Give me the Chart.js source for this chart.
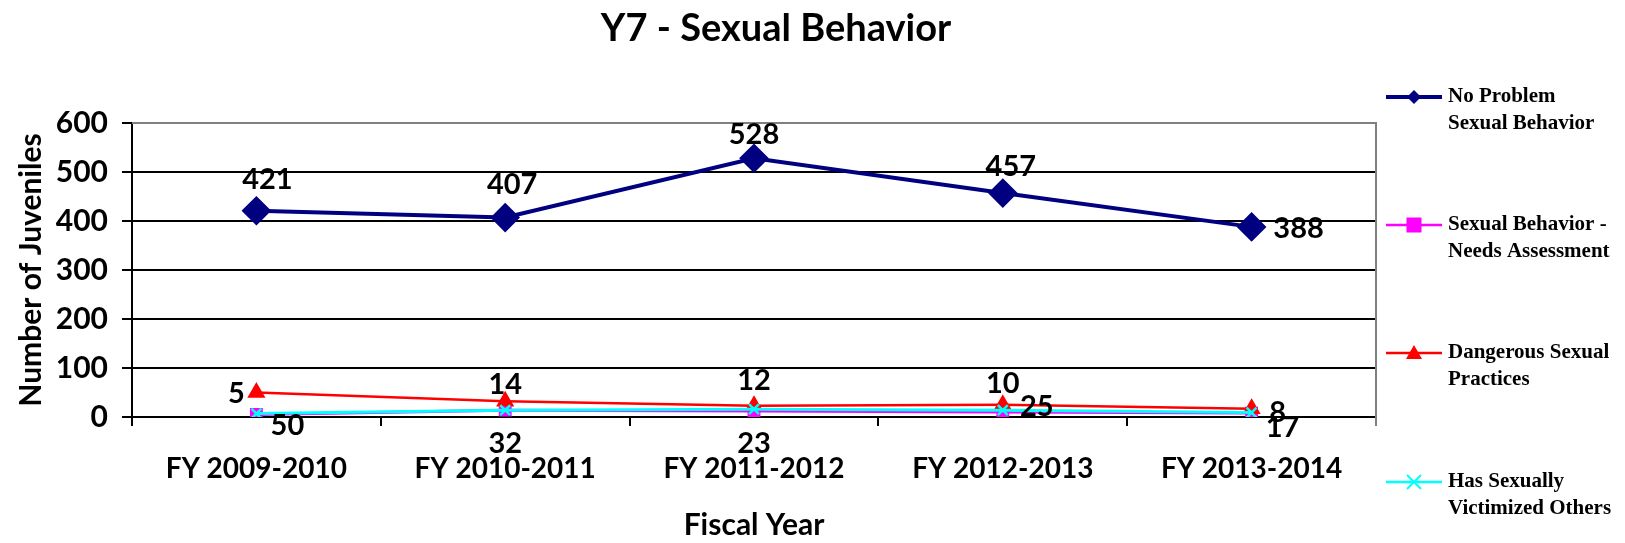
<!DOCTYPE html>
<html>
<head>
<meta charset="utf-8">
<script src="https://cdn.jsdelivr.net/npm/chart.js@4.4.1/dist/chart.umd.min.js"></script>
<style>
  html, body { margin: 0; padding: 0; background: #fff; }
  #wrap { width: 1625px; height: 543px; position: relative; }
</style>
</head>
<body>
<div id="wrap"><canvas id="mycanvas"></canvas></div>
<script>
// values
var years = ['FY 2009-2010', 'FY 2010-2011', 'FY 2011-2012', 'FY 2012-2013', 'FY 2013-2014'];
var noProblem = [421, 407, 528, 457, 388];
var needsAssessment = [5, 14, 12, 10, 8];
var dangerous = [50, 32, 23, 25, 17];
var victimized = [7, 14, 16, 14, 9]; // no labels on chart, estimated
var yTicks = [0, 100, 200, 300, 400, 500, 600];

var sansFont = 'Lato, "Open Sans", sans-serif';
var serifFont = '"Liberation Serif", "Times New Roman", serif';

// label offsets (px from each point), per dataset
var labelOffsets = {
	0: [[11, -31], [7, -33], [0, -24], [8, -26], [47, 2]],
	1: [[-20, -21], [0, -25], [0, -30], [0, -28], [26, 0]],
	2: [[31, 33], [0, 42], [0, 38], [34, 2], [31, 19]]
};

function drawMarker(ctx, style, x, y, r, color) {
	ctx.save();
	ctx.fillStyle = color;
	ctx.strokeStyle = color;
	ctx.beginPath();
	if (style == 'rectRot') {
		ctx.moveTo(x, y - r); ctx.lineTo(x + r, y); ctx.lineTo(x, y + r); ctx.lineTo(x - r, y);
		ctx.closePath(); ctx.fill();
	} else if (style == 'rect') {
		ctx.rect(x - r, y - r, 2 * r, 2 * r); ctx.fill();
	} else if (style == 'triangle') {
		ctx.moveTo(x, y - r); ctx.lineTo(x + r, y + r * 0.75); ctx.lineTo(x - r, y + r * 0.75);
		ctx.closePath(); ctx.fill();
	} else {
		ctx.lineWidth = 2;
		ctx.moveTo(x - r, y - r); ctx.lineTo(x + r, y + r);
		ctx.moveTo(x + r, y - r); ctx.lineTo(x - r, y + r);
		ctx.stroke();
	}
	ctx.restore();
}

var extras = {
	id: 'extras',
	beforeDatasetsDraw: function(chart) {
		var ctx = chart.ctx, a = chart.chartArea;
		ctx.save();
		ctx.strokeStyle = '#808080';
		ctx.lineWidth = 2;
		ctx.beginPath();
		ctx.moveTo(a.left, a.top);
		ctx.lineTo(a.right, a.top);
		ctx.lineTo(a.right, a.bottom + 9);
		ctx.stroke();
		ctx.restore();
	},
	afterDatasetsDraw: function(chart) {
		var ctx = chart.ctx;
		ctx.save();
		ctx.font = 'bold 29px ' + sansFont;
		ctx.fillStyle = '#000';
		ctx.textAlign = 'center';
		ctx.textBaseline = 'middle';
		for (var d in labelOffsets) {
			var meta = chart.getDatasetMeta(d);
			var vals = chart.data.datasets[d].data;
			meta.data.forEach(function(pt, i) {
				var off = labelOffsets[d][i];
				ctx.fillText(String(vals[i]), pt.x + off[0], pt.y + off[1]);
			});
		}
		ctx.restore();
	},
	afterDraw: function(chart) {
		var ctx = chart.ctx;
		ctx.save();
		// title
		ctx.font = 'bold 38px ' + sansFont;
		ctx.fillStyle = '#000';
		ctx.textAlign = 'center';
		ctx.textBaseline = 'middle';
		ctx.fillText('Y7 - Sexual Behavior', 776, 29);
		// legend
		var rows = [97, 225, 353, 482];
		var names = [['No Problem', 'Sexual Behavior'], ['Sexual Behavior -', 'Needs Assessment'],
			['Dangerous Sexual', 'Practices'], ['Has Sexually', 'Victimized Others']];
		var sizes = [7, 7.5, 8, 7];
		ctx.font = 'bold 21px ' + serifFont;
		ctx.textAlign = 'left';
		chart.data.datasets.forEach(function(ds, i) {
			var y = rows[i];
			ctx.strokeStyle = ds.borderColor;
			ctx.lineWidth = i == 0 ? 4 : 2.5;
			ctx.beginPath();
			ctx.moveTo(1386, y); ctx.lineTo(1442, y);
			ctx.stroke();
			drawMarker(ctx, ds.pointStyle, 1414, y, sizes[i], ds.borderColor);
			ctx.fillStyle = '#000';
			ctx.fillText(names[i][0], 1448, y);
			ctx.fillText(names[i][1], 1448, y + 27);
		});
		ctx.restore();
	}
};

var chartdata = {
	labels: years,
	datasets: [
	{
		label: 'No Problem Sexual Behavior',
		data: noProblem,
		borderColor: '#000080',
		backgroundColor: '#000080',
		borderWidth: 4,
		pointStyle: 'rectRot',
		pointRadius: 12,
		pointHoverRadius: 12,
		order: 4
	},
	{
		label: 'Sexual Behavior - Needs Assessment',
		data: needsAssessment,
		borderColor: '#FF00FF',
		backgroundColor: '#FF00FF',
		borderWidth: 3,
		pointStyle: 'rect',
		pointRadius: 7,
		pointHoverRadius: 7,
		order: 3
	},
	{
		label: 'Dangerous Sexual Practices',
		data: dangerous,
		borderColor: '#FF0000',
		backgroundColor: '#FF0000',
		borderWidth: 2.5,
		pointStyle: 'triangle',
		pointRadius: 8,
		pointHoverRadius: 8,
		order: 2
	},
	{
		label: 'Has Sexually Victimized Others',
		data: victimized,
		borderColor: '#00FFFF',
		backgroundColor: '#00FFFF',
		borderWidth: 3,
		pointStyle: 'crossRot',
		pointRadius: 7,
		pointHoverRadius: 7,
		pointBorderWidth: 2.5,
		order: 1
	}
	]
};

var ctx = document.getElementById('mycanvas');
var lineGraph = new Chart(ctx, {
	type: 'line',
	data: chartdata,
	plugins: [extras],
	options: {
		responsive: true,
		maintainAspectRatio: false,
		animation: false,
		events: [],
		layout: { padding: { top: 123, right: 249, left: 0, bottom: 0 } },
		elements: { line: { tension: 0 } },
		plugins: {
			legend: { display: false },
			tooltip: { enabled: false },
			title: { display: false }
		},
		scales: {
			x: {
				offset: true,
				afterFit: function(s) { s.height = 126; },
				grid: { offset: true, drawOnChartArea: false, color: '#000', lineWidth: 2, tickLength: 9 },
				border: { color: '#000', width: 2 },
				ticks: { color: '#000', padding: 26, font: { family: sansFont, size: 28, weight: 'bold' } },
				title: { display: true, text: 'Fiscal Year', color: '#000', padding: { top: 0, bottom: 0 },
					font: { family: sansFont, size: 30, weight: 'bold' } }
			},
			y: {
				min: 0,
				max: 600,
				afterFit: function(s) { s.width = 132; },
				afterBuildTicks: function(s) { s.ticks = yTicks.map(function(v) { return { value: v }; }); },
				grid: {
					color: function(c) { return c.tick && c.tick.value == 600 ? '#808080' : '#000'; },
					tickColor: '#000',
					lineWidth: 2,
					tickLength: 10
				},
				border: { color: '#000', width: 2 },
				ticks: { color: '#000', padding: 14, font: { family: sansFont, size: 30, weight: 'bold' } },
				title: { display: true, text: 'Number of Juveniles', color: '#000', padding: { top: 13, bottom: 0 },
					font: { family: sansFont, size: 30, weight: 'bold' } }
			}
		}
	}
});
</script>
</body>
</html>
